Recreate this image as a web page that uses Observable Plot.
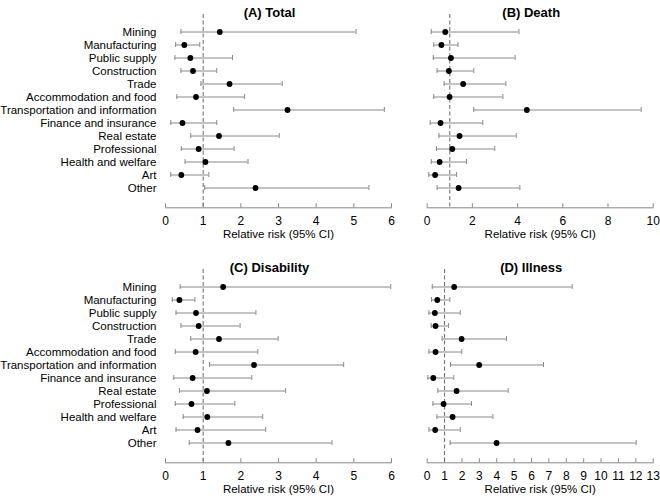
<!DOCTYPE html>
<html><head><meta charset="utf-8">
<script src="https://cdn.jsdelivr.net/npm/d3@7"></script>
<script src="https://cdn.jsdelivr.net/npm/@observablehq/plot@0.6"></script>
<style>
body{margin:0;background:#fff;}
#chart{position:relative;width:660px;height:498px;font-family:"Liberation Sans",Arial,sans-serif;}
#chart svg{position:absolute;}
</style></head><body><div id="chart"></div>
<script>
const industries = ["Mining","Manufacturing","Public supply","Construction","Trade","Accommodation and food","Transportation and information","Finance and insurance","Real estate","Professional","Health and welfare","Art","Other"];

const titles = ["(A) Total","(B) Death","(C) Disability","(D) Illness"];
const axisTitle = "Relative risk (95% CI)";

const totalRR = [1.44,0.50,0.66,0.73,1.70,0.81,3.24,0.45,1.42,0.88,1.06,0.42,2.39];
const totalLo = [0.41,0.27,0.25,0.41,0.94,0.30,1.81,0.14,0.67,0.42,0.52,0.14,1.04];
const totalHi = [5.06,0.91,1.78,1.36,3.10,2.10,5.81,1.36,3.02,1.82,2.19,1.15,5.40];

const deathRR = [0.80,0.63,1.05,0.96,1.59,0.99,4.41,0.59,1.43,1.11,0.55,0.35,1.39];
const deathLo = [0.18,0.29,0.27,0.44,0.75,0.29,2.06,0.13,0.52,0.41,0.18,0.07,0.44];
const deathHi = [4.06,1.36,3.89,2.06,3.48,3.35,9.47,2.46,3.94,2.99,1.74,1.30,4.10];

const disabRR = [1.53,0.37,0.81,0.88,1.42,0.80,2.35,0.72,1.10,0.69,1.11,0.85,1.67];
const disabLo = [0.39,0.18,0.28,0.41,0.67,0.26,1.17,0.22,0.37,0.26,0.47,0.28,0.63];
const disabHi = [5.98,0.78,2.40,1.98,2.99,2.45,4.73,2.29,3.19,1.84,2.58,2.66,4.42];

const illRR = [1.55,0.58,0.44,0.48,1.98,0.48,2.99,0.35,1.69,0.94,1.46,0.46,3.99];
const illLo = [0.29,0.25,0.10,0.23,0.86,0.10,1.34,0.04,0.61,0.33,0.56,0.10,1.32];
const illHi = [8.34,1.30,1.90,1.23,4.56,1.99,6.69,1.53,4.66,2.55,3.78,1.90,12.02];

const ticksA = [0,1,2,3,4,5,6];
const ticksB = [0,2,4,6,8,10];
const ticksC = [0,1,2,3,4,5,6];
const ticksD = [0,1,2,3,4,5,6,7,8,9,10,11,12,13];

const series = [
  {rr: totalRR, lo: totalLo, hi: totalHi, ticks: ticksA},
  {rr: deathRR, lo: deathLo, hi: deathHi, ticks: ticksB},
  {rr: disabRR, lo: disabLo, hi: disabHi, ticks: ticksC},
  {rr: illRR, lo: illLo, hi: illHi, ticks: ticksD}
];

// layout
const layout = [
  {left: 0, top: 0, width: 400, ml: 165, mr: 9, labels: true},
  {left: 400, top: 0, width: 260, ml: 26.7, mr: 7.3, labels: false},
  {left: 0, top: 255, width: 400, ml: 165, mr: 9, labels: true},
  {left: 400, top: 255, width: 260, ml: 26.7, mr: 7.3, labels: false}
];

const H = 243, MT = 14, MB = 35.7;
const gray = "#888";
const chart = document.getElementById("chart");

series.forEach((s, k) => {
  const L = layout[k];
  const rows = industries.map((c, i) => ({cat: c, rr: s.rr[i], lo: s.lo[i], hi: s.hi[i]}));
  const marks = [
    Plot.frame({anchor: "bottom", stroke: gray}),
    Plot.axisX({ticks: s.ticks, tickFormat: d => String(d), tickSize: -4, tickPadding: 13, stroke: gray, fill: "#000", label: null, fontSize: 12}),
    Plot.ruleX([1], {stroke: "#666", strokeDasharray: "4,2.5"}),
    Plot.ruleY(rows, {y: "cat", x1: "lo", x2: "hi", stroke: gray}),
    Plot.tickX(rows, {x: "lo", y: "cat", stroke: gray, insetTop: 4, insetBottom: 4}),
    Plot.tickX(rows, {x: "hi", y: "cat", stroke: gray, insetTop: 4, insetBottom: 4}),
    Plot.dot(rows, {x: "rr", y: "cat", r: 2.9, fill: "#000"}),
    Plot.text([titles[k]], {frameAnchor: "top", dy: -7, dx: -9, fontWeight: "bold", fontSize: 13, fill: "#000"}),
    Plot.text([axisTitle], {frameAnchor: "bottom", dy: 30, fontSize: 11.5, fill: "#000"})
  ];
  if (L.labels) marks.push(Plot.axisY({tickSize: 0, tickPadding: 9, label: null, fontSize: 11.5, fill: "#000"}));
  const svg = Plot.plot({
    width: L.width, height: H,
    marginLeft: L.ml, marginRight: L.mr, marginTop: MT, marginBottom: MB,
    style: {fontFamily: '"Liberation Sans", Arial, sans-serif', fontSize: "11.5px", color: "#000", background: "transparent", overflow: "visible"},
    x: {domain: [0, s.ticks[s.ticks.length - 1]]},
    y: {type: "band", domain: industries, range: [19, 200.3], padding: 0, axis: null},
    marks
  });
  svg.style.left = L.left + "px";
  svg.style.top = L.top + "px";
  chart.appendChild(svg);
});
</script>
</body></html>
